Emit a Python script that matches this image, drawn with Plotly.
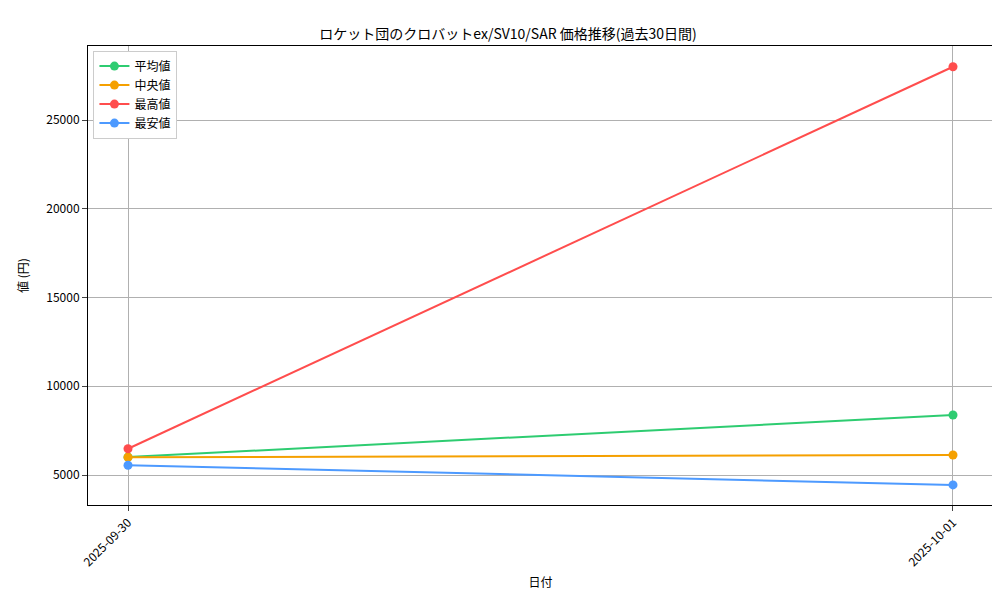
import plotly.graph_objects as go

dates = ["2025-09-30", "2025-10-01"]
avg_prices = [6010, 8380]
median_prices = [6000, 6130]
max_prices = [6480, 28000]
min_prices = [5550, 4440]

series = [
    ("平均値", avg_prices, "#2ecc71"),
    ("中央値", median_prices, "#f5a000"),
    ("最高値", max_prices, "#ff4d4d"),
    ("最安値", min_prices, "#4d9aff"),
]

font = "Noto Sans CJK JP"
fig = go.Figure()
x = list(range(len(dates)))
for name, vals, color in series:
    fig.add_trace(go.Scatter(x=x, y=vals, name=name, mode="lines+markers",
                             line=dict(color=color, width=2),
                             marker=dict(color=color, size=9)))

fig.update_layout(
    width=1000, height=600,
    paper_bgcolor="white", plot_bgcolor="white",
    font=dict(family=font, size=12, color="black"),
    margin=dict(l=80, r=15, t=38, b=103),
    title=dict(text="ロケット団のクロバットex/SV10/SAR 価格推移(過去30日間)",
               x=0.5, xanchor="center", y=0.965, font=dict(size=14)),
    legend=dict(x=0.006, y=0.99, xanchor="left", yanchor="top",
                bgcolor="white", bordercolor="#cccccc", borderwidth=1,
                font=dict(size=12)),
)
fig.update_xaxes(tickvals=x, ticktext=dates, tickangle=-45, automargin=False,
                 range=[-0.0485, 1.0485], showgrid=True, gridcolor="#b0b0b0",
                 showline=True, linecolor="black", mirror=True, ticks="outside",
                 title=dict(text="日付", font=dict(size=12), standoff=10), zeroline=False)
fig.update_yaxes(range=[3310, 29170], tickvals=[5000, 10000, 15000, 20000, 25000],
                 tickformat="d", automargin=False,
                 showgrid=True, gridcolor="#b0b0b0", showline=True, linecolor="black",
                 mirror=True, ticks="outside", title=dict(text="値 (円)", font=dict(size=12)),
                 zeroline=False)

fig.write_html("out.html")
